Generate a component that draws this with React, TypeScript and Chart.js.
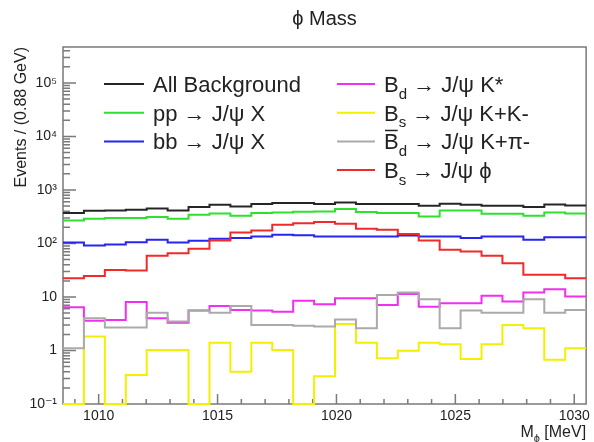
import React, { useEffect, useRef } from 'react';
import { Chart, registerables } from 'chart.js';
Chart.register(...registerables);

const FONT = "'Liberation Sans', 'DejaVu Sans', Arial, sans-serif";
const TEXT = '#222';

// Histogram binning (M_phi in MeV)
const X_MIN = 1008.5;
const BIN_WIDTH = 0.88;
const N_BINS = 25;
const X_MAX = X_MIN + N_BINS * BIN_WIDTH;
const Y_MIN = 0.1;
const Y_MAX = 4.7e5;

const X_TICKS = [1010, 1015, 1020, 1025, 1030];
const Y_TICKS = [0.1, 1, 10, 100, 1000, 10000, 100000];
const Y_TICK_LABELS = ['10⁻¹', '1', '10', '10²', '10³', '10⁴', '10⁵'];

const TITLE = 'ϕ Mass';
const Y_TITLE = 'Events / (0.88 GeV)';

// Series labels (_{..} = subscript, #bar{..} = overline)
const LABELS = [
  'All Background',
  'pp → J/ψ X',
  'bb → J/ψ X',
  'B_{d} → J/ψ K*',
  'B_{s} → J/ψ K+K-',
  '#bar{B}_{d} → J/ψ K+π-',
  'B_{s} → J/ψ ϕ',
];
const COLORS = ['#262626', '#2fe02f', '#2626ee', '#f030f0', '#f2f000', '#aaaaaa', '#f02a2a'];

// Bin contents, 25 bins each
const allBackground = [370, 408, 413, 426, 451, 413, 479, 528, 491, 545, 569, 569, 545, 583, 545, 545, 545, 506, 552, 528, 506, 506, 479, 535, 513];
const ppJpsiX = [269, 289, 298, 298, 311, 289, 344, 363, 329, 370, 379, 391, 396, 440, 386, 370, 370, 319, 413, 413, 359, 359, 329, 379, 363];
const bbJpsiX = [104, 92, 96, 106, 117, 104, 112, 122, 126, 135, 145, 143, 135, 135, 135, 135, 141, 135, 135, 126, 135, 135, 117, 131, 131];
const bdJpsiKstar = [6.4, 3.6, 3.7, 8.1, 4.0, 3.3, 5.6, 6.8, 5.7, 5.6, 5.3, 8.5, 7.3, 9.5, 9.5, 7.1, 11.4, 6.6, 7.6, 7.6, 10.5, 8.2, 12.1, 14.0, 10.2];
const bsJpsiKK = [0, 1.82, 0, 0.35, 1.02, 1.02, 0, 1.4, 0.4, 1.4, 1.02, 0, 0.33, 3.14, 1.4, 0.72, 0.99, 1.4, 1.31, 0.69, 1.31, 3.01, 2.61, 0.67, 1.1];
const bdbarJpsiKpi = [1.1, 4.0, 2.7, 2.7, 5.1, 3.5, 5.6, 5.1, 6.8, 3.0, 3.0, 2.9, 2.8, 3.8, 2.6, 10.9, 12.1, 9.1, 2.6, 5.6, 5.1, 5.1, 9.1, 5.1, 5.7];
const bsJpsiPhi = [22.5, 24.8, 32.1, 31.2, 58.7, 65.9, 79.4, 114, 160, 175, 223, 240, 251, 233, 188, 180, 150, 114, 76, 70.7, 58.7, 42.9, 25.9, 25.9, 22.5];

const SERIES = [allBackground, ppJpsiX, bbJpsiX, bdJpsiKstar, bsJpsiKK, bdbarJpsiKpi, bsJpsiPhi];

type Part = { t: string; sub?: boolean; bar?: boolean };
function parseLabel(s: string): Part[] {
  const parts: Part[] = [];
  let i = 0;
  let buf = '';
  const flush = () => { if (buf) { parts.push({ t: buf }); buf = ''; } };
  while (i < s.length) {
    if (s.startsWith('#bar{', i)) {
      flush();
      const j = s.indexOf('}', i);
      parts.push({ t: s.slice(i + 5, j), bar: true });
      i = j + 1;
    } else if (s.startsWith('_{', i)) {
      flush();
      const j = s.indexOf('}', i);
      parts.push({ t: s.slice(i + 2, j), sub: true });
      i = j + 1;
    } else {
      buf += s[i];
      i++;
    }
  }
  flush();
  return parts;
}
const plain = (s: string) => parseLabel(s).map((p) => p.t).join('');

// Step-histogram points at bin edges; empty bins sit on the axis floor (as in ROOT log plots)
function histPoints(values: number[]) {
  const pts = values.map((v, i) => ({ x: X_MIN + i * BIN_WIDTH, y: Math.max(v, Y_MIN) }));
  pts.push({ x: X_MAX, y: Math.max(values[values.length - 1], Y_MIN) });
  return pts;
}

function drawRich(ctx: CanvasRenderingContext2D, x: number, baseline: number, parts: Part[], size: number) {
  let cx = x;
  for (const p of parts) {
    const fs = p.sub ? Math.round(size * 0.66) : size;
    ctx.font = `${fs}px ${FONT}`;
    const dy = p.sub ? size * 0.3 : 0;
    ctx.fillText(p.t, cx, baseline + dy);
    const w = ctx.measureText(p.t).width;
    if (p.bar) {
      ctx.save();
      ctx.strokeStyle = TEXT;
      ctx.lineWidth = 1.5;
      ctx.beginPath();
      const yb = baseline - size * 0.72 - 3;
      ctx.moveTo(cx + 1, yb);
      ctx.lineTo(cx + w - 1, yb);
      ctx.stroke();
      ctx.restore();
    }
    cx += w;
  }
}

const rootPlugin = {
  id: 'rootStyle',
  beforeDatasetsDraw(chart: any) {
    const { ctx, chartArea: a, scales } = chart;
    const x = scales.x;
    const y = scales.y;
    ctx.save();
    ctx.strokeStyle = '#7a7a7a';
    ctx.lineWidth = 1.5;
    ctx.strokeRect(a.left, a.top, a.right - a.left, a.bottom - a.top);
    ctx.beginPath();
    for (let v = Math.ceil(X_MIN); v <= X_MAX; v++) {
      const px = x.getPixelForValue(v);
      const len = v % 5 === 0 ? 10 : 5;
      ctx.moveTo(px, a.bottom);
      ctx.lineTo(px, a.bottom - len);
    }
    for (let e = -1; e <= 6; e++) {
      for (let k = 1; k <= 9; k++) {
        const v = k * Math.pow(10, e);
        if (v < Y_MIN * 0.999 || v > Y_MAX) continue;
        const py = y.getPixelForValue(v);
        const len = k === 1 ? 13 : 7;
        ctx.moveTo(a.left, py);
        ctx.lineTo(a.left + len, py);
      }
    }
    ctx.stroke();
    ctx.restore();
  },
  afterDraw(chart: any) {
    const { ctx, chartArea: a } = chart;
    ctx.save();
    ctx.fillStyle = TEXT;
    ctx.textBaseline = 'alphabetic';
    ctx.textAlign = 'left';
    // Legend
    const size = 22;
    const rows = [84, 112.7, 141.4, 170];
    const cols = [
      { x0: 104, x1: 144, tx: 153 },
      { x0: 337, x1: 375, tx: 384 },
    ];
    const place = [
      [0, 0], [0, 1], [0, 2],
      [1, 0], [1, 1], [1, 2], [1, 3],
    ];
    LABELS.forEach((lab, i) => {
      const [c, r] = place[i];
      const col = cols[c];
      const yc = rows[r];
      ctx.strokeStyle = COLORS[i];
      ctx.lineWidth = 2;
      ctx.beginPath();
      ctx.moveTo(col.x0, yc);
      ctx.lineTo(col.x1, yc);
      ctx.stroke();
      ctx.fillStyle = TEXT;
      drawRich(ctx, col.tx, yc + size * 0.36, parseLabel(lab), size);
    });
    // X axis title: M_phi [MeV]
    const parts: Part[] = [{ t: 'M' }, { t: 'ϕ', sub: true }, { t: ' [MeV]' }];
    const xs = 16;
    let w = 0;
    for (const p of parts) {
      ctx.font = `${p.sub ? Math.round(xs * 0.66) : xs}px ${FONT}`;
      w += ctx.measureText(p.t).width;
    }
    drawRich(ctx, a.right - w, 437, parts, xs);
    ctx.restore();
  },
};

export default function App() {
  const ref = useRef<HTMLCanvasElement | null>(null);
  useEffect(() => {
    if (!ref.current) return;
    const order = [6, 5, 4, 3, 2, 1, 0];
    const chart = new Chart(ref.current, {
      type: 'line',
      data: {
        datasets: SERIES.map((vals, i) => ({
          label: plain(LABELS[i]),
          data: histPoints(vals),
          borderColor: COLORS[i],
          backgroundColor: COLORS[i],
          borderWidth: 2,
          stepped: 'before' as const,
          pointRadius: 0,
          fill: false,
          clip: false as any,
          order: order[i],
        })),
      },
      options: {
        responsive: false,
        animation: false,
        devicePixelRatio: 1,
        layout: { padding: { left: 0, right: 4, top: 0, bottom: 0 } },
        plugins: {
          legend: { display: false },
          tooltip: { enabled: false },
          title: {
            display: true,
            text: TITLE,
            fullSize: false,
            color: TEXT,
            font: { family: FONT, size: 20, weight: 'normal' },
            padding: { top: 7, bottom: 16 },
          },
        },
        scales: {
          x: {
            type: 'linear',
            min: X_MIN,
            max: X_MAX,
            grid: { display: false, drawTicks: false },
            border: { display: false },
            afterBuildTicks: (s: any) => { s.ticks = X_TICKS.map((v) => ({ value: v })); },
            afterFit: (s: any) => { s.height = 38; },
            ticks: {
              color: TEXT,
              font: { family: FONT, size: 14 },
              padding: 4,
              maxRotation: 0,
              autoSkip: false,
              callback: (v: any) => String(v),
            },
          },
          y: {
            type: 'logarithmic',
            min: Y_MIN,
            max: Y_MAX,
            grid: { display: false, drawTicks: false },
            border: { display: false },
            afterBuildTicks: (s: any) => { s.ticks = Y_TICKS.map((v) => ({ value: v })); },
            afterFit: (s: any) => { s.width = 63; },
            ticks: {
              color: TEXT,
              font: { family: FONT, size: 14 },
              padding: 6,
              autoSkip: false,
              callback: (_v: any, i: number) => Y_TICK_LABELS[i],
            },
            title: {
              display: true,
              text: Y_TITLE,
              align: 'end',
              color: TEXT,
              font: { family: FONT, size: 16 },
              padding: { top: 12, bottom: 0 },
            },
          },
        },
      },
      plugins: [rootPlugin],
    } as any);
    return () => chart.destroy();
  }, []);
  return (
    <div style={{ position: 'absolute', left: 0, top: 0, width: 594, height: 442, background: '#fff' }}>
      <canvas ref={ref} width={594} height={442} style={{ display: 'block' }} />
    </div>
  );
}
